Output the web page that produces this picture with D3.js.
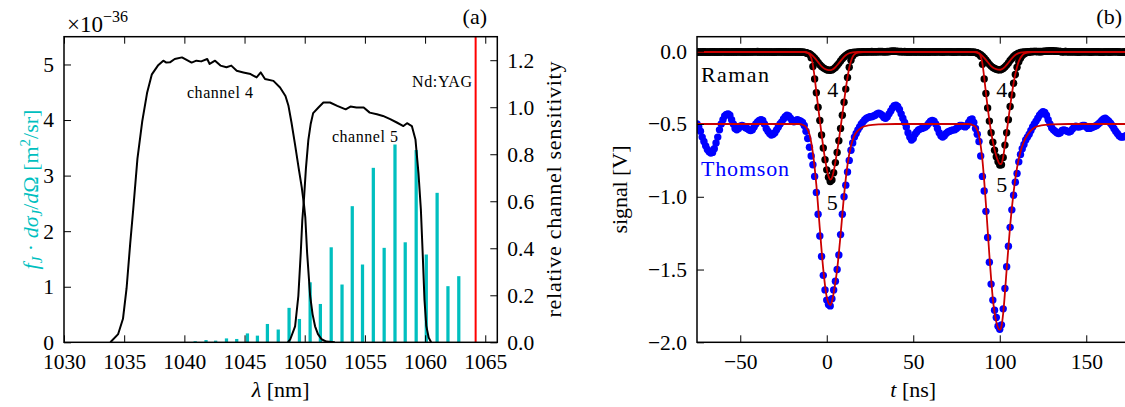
<!DOCTYPE html>
<html>
<head>
<meta charset="utf-8">
<script src="https://cdnjs.cloudflare.com/ajax/libs/d3/7.8.5/d3.min.js"></script>
<style>
  body { margin: 0; background: #fff; }
  svg { display: block; }
  svg text { font-family: "Liberation Serif", "Times New Roman", serif !important; }
</style>
</head>
<body>
<svg></svg>
<script>
const w = 1125;
const h = 407;
const svg = d3.select('svg').attr('width', w).attr('height', h);

// ---- panel (a): Raman lines and filter curves ----
const lineNm = [1040.9, 1041.8, 1042.6, 1043.5, 1044.35, 1045.24, 1046.07, 1046.9, 1047.8, 1048.7,
  1049.56, 1050.45, 1051.3, 1052.2, 1053.1, 1053.95, 1054.8, 1055.7, 1056.6, 1057.5,
  1058.35, 1059.26, 1060.1, 1061.0, 1061.9, 1062.8];
// f_J * dsigma/dOmega, in units of 1e-36 m^2/sr
const lineCross = [0.02, 0.04, 0.03, 0.07, 0.06, 0.16, 0.12, 0.33, 0.23, 0.62,
  0.42, 1.08, 0.69, 1.71, 1.04, 2.45, 1.40, 3.14, 1.70, 3.56,
  1.80, 3.46, 1.58, 2.69, 1.01, 1.19];

const ch4Nm = [1033.85, 1034.5, 1034.9, 1035.2, 1035.5, 1035.75, 1036.1, 1036.5, 1036.9, 1037.3,
  1037.8, 1038.25, 1038.5, 1038.8, 1039.2, 1039.8, 1040.3, 1040.6, 1041.0, 1041.4,
  1041.9, 1042.1, 1042.55, 1043.0, 1043.5, 1043.9, 1044.35, 1044.9, 1045.5, 1046.0,
  1046.35, 1046.7, 1047.4, 1047.95, 1048.4, 1048.65, 1048.9, 1049.2, 1049.5, 1049.75,
  1049.95, 1050.05, 1050.2, 1050.45, 1050.65, 1050.86, 1051.1, 1051.4, 1051.8, 1052.5];
const ch4Sens = [0, 0.035, 0.10, 0.23, 0.42, 0.565, 0.78, 0.94, 1.06, 1.14,
  1.177, 1.198, 1.19, 1.191, 1.205, 1.212, 1.198, 1.19, 1.198, 1.195,
  1.205, 1.184, 1.198, 1.177, 1.17, 1.177, 1.155, 1.148, 1.141, 1.127,
  1.148, 1.12, 1.112, 1.084, 1.048, 1.006, 0.935, 0.84, 0.74, 0.66,
  0.58, 0.53, 0.38, 0.197, 0.12, 0.068, 0.035, 0.013, 0.003, 0];

const ch5Nm = [1048.6, 1048.8, 1049.2, 1049.47, 1049.67, 1049.8, 1049.95, 1050.1, 1050.3, 1050.5,
  1050.7, 1051.14, 1051.55, 1052.1, 1052.7, 1053.4, 1053.8, 1054.3, 1054.9, 1055.4,
  1056.0, 1056.5, 1057.1, 1057.65, 1058.2, 1058.5, 1058.9, 1059.2, 1059.45, 1059.65,
  1059.8, 1059.95, 1060.1, 1060.3, 1060.5];
const ch5Sens = [0, 0.013, 0.068, 0.197, 0.38, 0.52, 0.62, 0.74, 0.86, 0.93,
  0.975, 0.999, 1.02, 1.02, 1.006, 0.991, 1.003, 0.999, 0.999, 0.977,
  0.97, 0.963, 0.949, 0.935, 0.92, 0.932, 0.92, 0.863, 0.72, 0.565,
  0.38, 0.18, 0.07, 0.02, 0];

const ndYagNm = 1064.2;
const xTicksA = [1030, 1035, 1040, 1045, 1050, 1055, 1060, 1065];
const yTicksA = [0, 1, 2, 3, 4, 5];
const yTicksA2 = [0, 0.2, 0.4, 0.6, 0.8, 1.0, 1.2];

// ---- panel (b): oscilloscope traces, one sample per ns starting at tStart ----
const tStart = -75;
const thomsonMv = [
  -500, -520, -550, -590, -620, -650, -675, -690, -700, -695,
  -670, -630, -590, -540, -500, -470, -445, -435, -430, -440,
  -470, -500, -530, -540, -530, -515, -510, -515, -525, -530,
  -540, -545, -540, -520, -500, -485, -475, -470, -475, -500,
  -530, -550, -565, -575, -570, -560, -540, -520, -500, -485,
  -465, -450, -440, -445, -460, -480, -485, -475, -470, -475,
  -480, -490, -510, -550, -600, -660, -720, -780, -860, -970,
  -1120, -1270, -1410, -1540, -1640, -1710, -1740, -1750, -1700, -1640,
  -1580, -1500, -1400, -1260, -1120, -1000, -920, -830, -750, -680,
  -630, -590, -565, -540, -520, -500, -485, -470, -460, -455,
  -450, -450, -445, -440, -430, -425, -430, -440, -455, -460,
  -450, -430, -410, -390, -375, -370, -380, -400, -430, -460,
  -490, -520, -560, -590, -610, -600, -570, -555, -540, -535,
  -530, -525, -520, -510, -495, -480, -475, -480, -500, -530,
  -560, -580, -590, -580, -565, -555, -550, -545, -540, -540,
  -530, -520, -510, -510, -515, -520, -510, -490, -470, -465,
  -490, -530, -570, -620, -720, -860, -960, -1100, -1280, -1450,
  -1600, -1710, -1780, -1830, -1890, -1910, -1880, -1770, -1630, -1480,
  -1340, -1210, -1090, -990, -900, -840, -760, -710, -670, -640,
  -610, -590, -570, -545, -520, -500, -480, -460, -440, -425,
  -415, -420, -440, -470, -500, -525, -540, -550, -560, -565,
  -560, -545, -540, -545, -550, -555, -550, -535, -520, -515,
  -520, -520, -515, -510, -510, -520, -530, -530, -525, -520,
  -515, -510, -500, -490, -475, -465, -460, -470, -480, -495,
  -510, -530, -550, -565, -580, -590, -590, -585, -580, -575,
  -570];
const raman4Mv = [
  -5, -4, -6, -5, -3, -4, -6, -7, -5, -4,
  -3, -4, -5, -6, -5, -4, -4, -3, -5, -6,
  -5, -4, -3, -3, -4, -5, -6, -6, -5, -4,
  -4, -5, -5, -4, -3, -2, -3, -4, -5, -5,
  -6, -5, -4, -4, -5, -6, -5, -4, -3, -4,
  -5, -6, -6, -5, -4, -4, -5, -5, -4, -5,
  -6, -7, -8,
  -10, -13, -17, -25, -35, -48, -62, -77, -92, -104, -114, -121, -127, -130,
  -131, -128, -121, -111, -98, -83, -67, -52, -39, -28, -20, -14, -10, -8,
  -7, -6, -5, -4, -4, -3, -4, -5, -4, -3,
  -2, -3, -4, -4, -3, -2, -2, -3, -4, -4,
  -3, -1, 0, 1, 0, -1, -2, -3, -3, -2,
  -3, -4, -5, -5, -4, -3, -3, -4, -5, -6,
  -5, -4, -4, -5, -5, -4, -3, -3, -4, -4,
  -5, -5, -4, -3, -3, -4, -5, -5, -4, -4,
  -3, -3, -4, -5, -5, -4, -4, -5, -6, -7,
  -9, -12, -16, -24, -34, -46, -60, -75, -90, -102, -112, -119, -124, -127,
  -128, -125, -118, -108, -95, -80, -64, -49, -36, -26, -18, -13, -9, -7,
  -5, -4, -3, -3, -2, -2, -1, -2, -3, -3,
  -2, -1, 0, 1, 2, 2, 3, 2, 1, 0,
  -1, -2, -3, -3, -2, -3, -4, -4, -3, -3,
  -4, -5, -5, -4, -3, -3, -4, -4, -5, -5,
  -4, -3, -3, -4, -5, -6, -5, -4, -4, -5,
  -5, -4, -3, -3, -4, -5, -6, -6, -5, -4, -4, -5];
const raman5Mv = [
  -6, -5, -5, -4, -5, -6, -5, -4, -4, -5,
  -6, -6, -5, -4, -3, -4, -5, -6, -5, -4,
  -4, -5, -6, -5, -4, -3, -4, -5, -5, -6,
  -5, -4, -4, -3, -4, -5, -6, -5, -4, -3,
  -3, -4, -5, -6, -6, -5, -4, -4, -5, -5,
  -4, -3, -4, -5, -6, -5, -4, -5, -6, -5,
  -5, -6, -7, -10,
  -15, -20, -45, -105, -190, -285, -385, -475, -575, -665, -745, -815, -865, -895,
  -885, -835, -765, -695, -615, -530, -440, -350, -260, -180, -110, -62, -32, -18,
  -12, -9, -7, -6, -5, -4, -4, -3, -4, -5,
  -4, -3, -3, -2, -3, -4, -4, -3, -2, -1,
  0, 1, 0, -1, -2, -3, -2, -3, -4, -5,
  -5, -4, -3, -4, -5, -5, -4, -4, -3, -4,
  -5, -6, -5, -4, -4, -5, -5, -4, -3, -4,
  -5, -5, -4, -4, -3, -4, -5, -6, -5, -4,
  -4, -5, -5, -4, -4, -5, -6, -6, -7, -8,
  -12, -20,
  -35, -90, -190, -290, -390, -480, -560, -625, -680, -725, -760, -782, -780, -730,
  -645, -560, -470, -380, -300, -220, -160, -110, -72, -48, -30, -19, -12,
  -8, -6, -4, -3, -2, -2, -1, -2, -3, -2,
  -1, 0, 1, 2, 3, 2, 1, 0, -1, -2,
  -3, -3, -2, -3, -4, -4, -3, -3, -4, -5,
  -5, -4, -3, -3, -4, -4, -5, -5, -4, -3,
  -3, -4, -5, -6, -5, -4, -4, -5, -5, -4,
  -3, -3, -4, -5, -6, -6, -5, -4, -4, -5];

// fitted curves: [t in ns, signal in mV]
const thomsonFit = [[-75, -500], [-16, -500], [-14, -505], [-12, -520], [-10, -570], [-8, -700],
  [-6, -920], [-4, -1220], [-2, -1500], [0, -1690], [1, -1730], [2, -1745], [3, -1720], [4, -1660],
  [6, -1500], [8, -1260], [10, -990], [12, -780], [14, -650], [16, -580], [18, -545], [20, -525],
  [24, -510], [30, -503], [40, -500], [82, -500], [84, -505], [86, -520], [88, -580], [90, -750],
  [92, -1050], [94, -1400], [96, -1700], [98, -1860], [99, -1900], [100, -1915], [101, -1890],
  [102, -1800], [104, -1500], [106, -1200], [108, -970], [110, -800], [112, -690], [114, -620],
  [116, -575], [118, -545], [120, -525], [124, -510], [130, -503], [140, -500], [175, -500]];
const raman4Fit = [[-75, -5], [-13, -5], [-11, -9], [-9, -22], [-7, -45], [-5, -75], [-3, -104],
  [-1, -122], [1, -129], [2, -130], [3, -127], [5, -110], [7, -82], [9, -52], [11, -28], [13, -14],
  [15, -8], [18, -5], [85, -5], [87, -9], [89, -22], [91, -45], [93, -74], [95, -102], [97, -119],
  [99, -126], [100, -127], [101, -124], [103, -107], [105, -79], [107, -49], [109, -26], [111, -13],
  [113, -7], [116, -5], [175, -5]];
const raman5Fit = [[-75, -5], [-13, -5], [-11, -12], [-10, -22], [-9, -45], [-8, -95], [-7, -180],
  [-6, -280], [-5, -380], [-4, -475], [-3, -570], [-2, -660], [-1, -740], [0, -808], [1, -858],
  [2, -882], [3, -870], [4, -825], [5, -760], [6, -690], [7, -610], [8, -525], [9, -435], [10, -345],
  [11, -258], [12, -180], [13, -115], [14, -68], [15, -38], [16, -22], [18, -10], [21, -6], [86, -5],
  [88, -14], [89, -35], [90, -85], [91, -180], [92, -285], [93, -385], [94, -475], [95, -555],
  [96, -620], [97, -676], [98, -720], [99, -754], [100, -775], [101, -772], [102, -725], [103, -642],
  [104, -556], [105, -467], [106, -378], [107, -296], [108, -220], [109, -157], [110, -108],
  [111, -70], [112, -45], [113, -28], [114, -17], [116, -9], [119, -6], [175, -5]];

const xTicksB = [-50, 0, 50, 100, 150];
const yTicksB = [0, -0.5, -1.0, -1.5, -2.0];

const fs = 21.5;
const cyan = '#00bfbf';

function styleAxis(g) {
  g.attr('font-family', null).attr('font-size', null);
  g.select('.domain').remove();
  g.selectAll('line').attr('stroke', '#000').attr('stroke-width', 1);
  g.selectAll('text').attr('font-size', fs).attr('fill', '#000');
}

// ================= panel (a) =================
const pa = { l: 64, r: 497.3, t: 36.7, b: 342.3 };
const xA = d3.scaleLinear().domain([1030, 1066]).range([pa.l, pa.r]);
const yA = d3.scaleLinear().domain([0, 5.5]).range([pa.b, pa.t]);
const yA2 = d3.scaleLinear().domain([0, 1.3]).range([pa.b, pa.t]);

svg.append('defs').append('clipPath').attr('id', 'clipA')
  .append('rect').attr('x', pa.l).attr('y', pa.t).attr('width', pa.r - pa.l).attr('height', pa.b - pa.t);

const gA = svg.append('g').attr('clip-path', 'url(#clipA)');

const barW = xA(1030.27) - xA(1030);
gA.selectAll('rect.bar')
  .data(lineNm)
  .enter()
  .append('rect')
  .attr('class', 'bar')
  .attr('x', (d) => xA(d) - barW / 2)
  .attr('width', barW)
  .attr('y', (d, i) => yA(lineCross[i]))
  .attr('height', (d, i) => yA(0) - yA(lineCross[i]))
  .attr('fill', cyan);

const lineA = d3.line().x((d) => xA(d[0])).y((d) => yA2(d[1]));
[d3.zip(ch4Nm, ch4Sens), d3.zip(ch5Nm, ch5Sens)].forEach((pts) => {
  gA.append('path')
    .attr('d', lineA(pts))
    .attr('fill', 'none')
    .attr('stroke', '#000')
    .attr('stroke-width', 2)
    .attr('stroke-linejoin', 'round');
});

gA.append('line')
  .attr('x1', xA(ndYagNm)).attr('x2', xA(ndYagNm))
  .attr('y1', yA2(0)).attr('y2', yA2(1.3))
  .attr('stroke', '#ff0000')
  .attr('stroke-width', 2);

svg.append('g').attr('transform', `translate(0, ${pa.b})`)
  .call(d3.axisBottom(xA).tickValues(xTicksA).tickFormat(d3.format('d')).tickSize(-7).tickPadding(11))
  .call(styleAxis);
svg.append('g').attr('transform', `translate(0, ${pa.t})`)
  .call(d3.axisTop(xA).tickValues(xTicksA).tickFormat('').tickSize(-7))
  .call(styleAxis);
svg.append('g').attr('transform', `translate(${pa.l}, 0)`)
  .call(d3.axisLeft(yA).tickValues(yTicksA).tickFormat(d3.format('d')).tickSize(-7).tickPadding(10))
  .call(styleAxis);
svg.append('g').attr('transform', `translate(${pa.r}, 0)`)
  .call(d3.axisRight(yA2).tickValues(yTicksA2).tickFormat(d3.format('.1f')).tickSize(-7).tickPadding(10))
  .call(styleAxis);

svg.append('rect')
  .attr('x', pa.l).attr('y', pa.t).attr('width', pa.r - pa.l).attr('height', pa.b - pa.t)
  .attr('fill', 'none').attr('stroke', '#000').attr('stroke-width', 1.5);

// annotations (a)
svg.append('text').attr('x', xA(1042.96)).attr('y', yA2(1.039)).attr('text-anchor', 'middle')
  .attr('font-size', 16).attr('textLength', 66).text('channel 4');
svg.append('text').attr('x', xA(1055.0)).attr('y', yA2(0.852)).attr('text-anchor', 'middle')
  .attr('font-size', 16).attr('textLength', 66).text('channel 5');
svg.append('text').attr('x', xA(1063.9)).attr('y', yA2(1.086)).attr('text-anchor', 'end')
  .attr('font-size', 16).attr('textLength', 60).text('Nd:YAG');

svg.append('text').attr('x', 487).attr('y', 24).attr('text-anchor', 'end')
  .attr('font-size', 22).text('(a)');

const expo = svg.append('text').attr('x', 67).attr('y', 32).attr('font-size', 23);
expo.append('tspan').text('×10');
expo.append('tspan').attr('dy', -10).attr('font-size', 16).text('−36');

svg.append('text')
  .attr('transform', `translate(${(pa.l + pa.r) / 2}, 397)`)
  .attr('text-anchor', 'middle').attr('font-size', 22)
  .html('<tspan font-style="italic">λ</tspan> [nm]');

const yl = svg.append('text')
  .attr('transform', `translate(38, ${(pa.t + pa.b) / 2}) rotate(-90)`)
  .attr('text-anchor', 'middle').attr('font-size', 22).attr('fill', cyan);
yl.html('<tspan font-style="italic">f</tspan><tspan font-style="italic" font-size="15" dy="4">J</tspan>' +
  '<tspan dy="-4"> · </tspan><tspan font-style="italic">dσ</tspan>' +
  '<tspan font-style="italic" font-size="15" dy="4">J</tspan><tspan dy="-4">/</tspan>' +
  '<tspan font-style="italic">d</tspan><tspan>Ω [m</tspan><tspan font-size="15" dy="-8">2</tspan>' +
  '<tspan dy="8">/sr]</tspan>');

svg.append('text')
  .attr('transform', `translate(561, ${(pa.t + pa.b) / 2}) rotate(-90)`)
  .attr('text-anchor', 'middle').attr('font-size', 22).attr('textLength', 256)
  .text('relative channel sensitivity');

// ================= panel (b) =================
const pb = { l: 697, r: 1129.5, t: 36.7, b: 342.3 };
const xB = d3.scaleLinear().domain([-75, 175]).range([pb.l, pb.r]);
const yB = d3.scaleLinear().domain([-2.0, 0.1]).range([pb.b, pb.t]);

svg.select('defs').append('clipPath').attr('id', 'clipB')
  .append('rect').attr('x', pb.l).attr('y', pb.t).attr('width', pb.r - pb.l).attr('height', pb.b - pb.t);

const gB = svg.append('g').attr('clip-path', 'url(#clipB)');

function dots(values, color) {
  gB.append('g')
    .selectAll('circle')
    .data(values)
    .enter()
    .append('circle')
    .attr('cx', (d, i) => xB(tStart + i))
    .attr('cy', (d) => yB(d / 1000))
    .attr('r', 3.7)
    .attr('fill', color);
}
dots(thomsonMv, '#0000ff');
dots(raman5Mv, '#000');
dots(raman4Mv, '#000');

const lineB = d3.line().x((d) => xB(d[0])).y((d) => yB(d[1] / 1000)).curve(d3.curveMonotoneX);
[thomsonFit, raman5Fit, raman4Fit].forEach((pts) => {
  gB.append('path')
    .attr('d', lineB(pts))
    .attr('fill', 'none')
    .attr('stroke', '#cc0000')
    .attr('stroke-width', 1.8);
});

svg.append('g').attr('transform', `translate(0, ${pb.b})`)
  .call(d3.axisBottom(xB).tickValues(xTicksB).tickFormat(d3.format('d')).tickSize(-7).tickPadding(11))
  .call(styleAxis);
svg.append('g').attr('transform', `translate(0, ${pb.t})`)
  .call(d3.axisTop(xB).tickValues(xTicksB).tickFormat('').tickSize(-7))
  .call(styleAxis);
svg.append('g').attr('transform', `translate(${pb.l}, 0)`)
  .call(d3.axisLeft(yB).tickValues(yTicksB).tickFormat(d3.format('.1f')).tickSize(-7).tickPadding(10))
  .call(styleAxis);

svg.append('rect')
  .attr('x', pb.l).attr('y', pb.t).attr('width', pb.r - pb.l).attr('height', pb.b - pb.t)
  .attr('fill', 'none').attr('stroke', '#000').attr('stroke-width', 1.5);

// annotations (b)
svg.append('text').attr('x', 701).attr('y', yB(-0.21)).attr('font-size', 22)
  .attr('textLength', 68).text('Raman');
svg.append('text').attr('x', 701).attr('y', yB(-0.86)).attr('font-size', 22)
  .attr('fill', '#0000ff').attr('textLength', 88).text('Thomson');
[[3.4, -0.314, '4'], [101.1, -0.314, '4'], [3.2, -1.09, '5'], [101.1, -0.965, '5']].forEach((a) => {
  svg.append('text').attr('x', xB(a[0])).attr('y', yB(a[1]))
    .attr('text-anchor', 'middle').attr('font-size', 22).text(a[2]);
});

svg.append('text').attr('x', 1122).attr('y', 24).attr('text-anchor', 'end')
  .attr('font-size', 22).text('(b)');

svg.append('text')
  .attr('transform', `translate(${(pb.l + pb.r) / 2}, 397)`)
  .attr('text-anchor', 'middle').attr('font-size', 22)
  .html('<tspan font-style="italic">t</tspan> [ns]');

svg.append('text')
  .attr('transform', `translate(627, ${(pb.t + pb.b) / 2}) rotate(-90)`)
  .attr('text-anchor', 'middle').attr('font-size', 22).attr('textLength', 88)
  .text('signal [V]');
</script>
</body>
</html>
